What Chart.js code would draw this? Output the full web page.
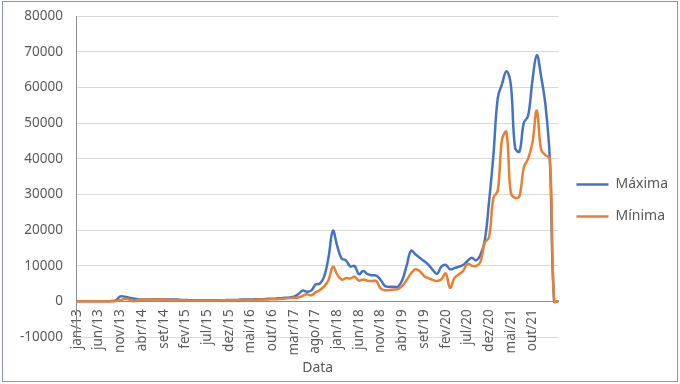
<!DOCTYPE html>
<html lang="pt">
<head>
  <meta charset="UTF-8">
  <script src="https://cdn.jsdelivr.net/npm/chart.js"></script>
  <title>Máxima e Mínima</title>
  <style>
    body { margin: 0; background: #fff; }
    #quadro { position: relative; width: 680px; height: 384px; }
    #quadro::after {
      content: ""; position: absolute; left: 2px; top: 1px; right: 2px; bottom: 2px;
      border: 1.5px solid #8b90c8; pointer-events: none;
    }
  </style>
</head>
<body>
  <div id="quadro"><canvas id="grafico"></canvas></div>

<script>
  // categorias: meses de jan/13 a abr/22
  const meses = ["jan", "fev", "mar", "abr", "mai", "jun", "jul", "ago", "set", "out", "nov", "dez"];
  const anos = ["13", "14", "15", "16", "17", "18", "19", "20", "21", "22"];
  const datas = [];
  for (let a = 0; a < anos.length; a++) {
    for (let m = 0; m < meses.length; m++) {
      if (datas.length < 112) datas.push(meses[m] + "/" + anos[a]);
    }
  }

  // valores
  const maxima = [
    0, 0, 0, 0, 0, 0, 0, 0, 100, 300,
    1400, 1300, 1000, 800, 600, 500,
    500, 500, 600, 600, 500, 500, 500, 500, 400, 400,
    300, 300, 300, 300, 300, 300, 300, 300, 300, 400,
    400, 400, 500, 500, 500, 600, 600, 600, 700, 700,
    800, 900, 1000, 1100,
    1300, 2000, 3000, 2700, 3000, 4700, 5000, 7000, 12400, 19800,
    15500, 12000, 11500, 9800, 9900, 7600, 8500, 7600, 7300, 7200,
    6000, 4300, 4100, 4100, 4100, 6000, 10000, 14200, 13200, 12200,
    11300, 10300, 8800, 7700, 9700, 10200, 9000, 9300, 9700, 10200,
    11300, 12200, 11500, 13000, 17000, 28000, 41000, 57000, 61000, 64500,
    61000, 43000, 42000, 50000, 52000, 62000, 69000, 63000, 55000, 40000,
    0, 0
  ];

  const minima = [
    0, 0, 0, 0, 0, 0, 0, 0, 0, 100,
    300, 700, 500, 0, 400, 500,
    400, 500, 500, 500, 500, 400, 400, 400, 300, 300,
    200, 200, 200, 200, 200, 200, 200, 300, 300, 300,
    300, 300, 400, 400, 400, 400, 500, 500, 500, 600,
    600, 700, 800, 900,
    1000, 1100, 1500, 2000, 1700, 2500, 3200, 4200, 6000, 9700,
    7500, 6100, 6500, 6400, 6900, 5800, 6100, 5800, 5700, 5700,
    3600, 3100, 3200, 3300, 3400, 4300, 6000, 7800, 9000, 8500,
    7100, 6500, 6000, 5700, 6200, 7800, 3800, 6500, 7500, 8500,
    10500, 10000, 9900, 11000, 16400, 18000, 29000, 31000, 45500, 47500,
    30500, 29000, 29500, 37500, 40000, 44500, 53500, 42500, 41000, 40000,
    0, 0
  ];

  const fonte = "'Noto Sans', sans-serif";
  const cinzaTexto = "#595959";

  const dados = {
    labels: datas,
    datasets: [
      {
        label: "Máxima",
        data: maxima,
        borderColor: "#4472C4",
        backgroundColor: "#4472C4",
        borderWidth: 2.5,
        pointRadius: 0,
        tension: 0.4,
        order: 2
      },
      {
        label: "Mínima",
        data: minima,
        borderColor: "#ED7D31",
        backgroundColor: "#ED7D31",
        borderWidth: 2.5,
        pointRadius: 0,
        tension: 0.4,
        order: 1 // laranja por cima, como no original
      }
    ]
  };

  const config = {
    type: "line",
    data: dados,
    options: {
      responsive: true,
      maintainAspectRatio: false,
      animation: false,
      layout: { padding: { left: 17, top: 16, right: 2, bottom: 47 } },
      plugins: {
        tooltip: { enabled: false },
        legend: {
          position: "right",
          title: { display: true, text: "", padding: { top: 0, bottom: 31 }, font: { family: fonte, size: 14 } },
          labels: {
            usePointStyle: true,
            pointStyle: "line",
            pointStyleWidth: 32,
            padding: 18,
            color: cinzaTexto,
            font: { family: fonte, size: 14 },
            sort: function (a, b) { return a.datasetIndex - b.datasetIndex; }
          }
        }
      },
      scales: {
        x: {
          position: { y: 0 },
          grid: { display: false, drawTicks: false },
          border: { display: true, color: "#8c8c8c", width: 1 },
          ticks: {
            autoSkip: false,
            maxRotation: 90,
            minRotation: 90,
            padding: 8,
            color: cinzaTexto,
            font: { family: fonte, size: 13.5 },
            callback: function (valor, i) {
              // rotulo a cada 5 meses, como no original
              return (i % 5 === 0 && i < datas.length - 2) ? datas[i] : null;
            }
          },
          title: {
            display: true,
            text: "Data",
            color: cinzaTexto,
            padding: { top: -4, bottom: 0 },
            font: { family: fonte, size: 14 }
          }
        },
        y: {
          min: -10000,
          max: 80000,
          grid: { color: "#d9d9d9", drawTicks: true, tickLength: 11, tickColor: "rgba(0,0,0,0)" },
          border: { display: true, color: "#8c8c8c" },
          ticks: {
            stepSize: 10000,
            padding: 3,
            color: cinzaTexto,
            font: { family: fonte, size: 13.5 },
            callback: function (valor) { return valor; }
          }
        }
      }
    }
  };

  let grafico = new Chart(document.getElementById("grafico"), config);
</script>
</body>
</html>
